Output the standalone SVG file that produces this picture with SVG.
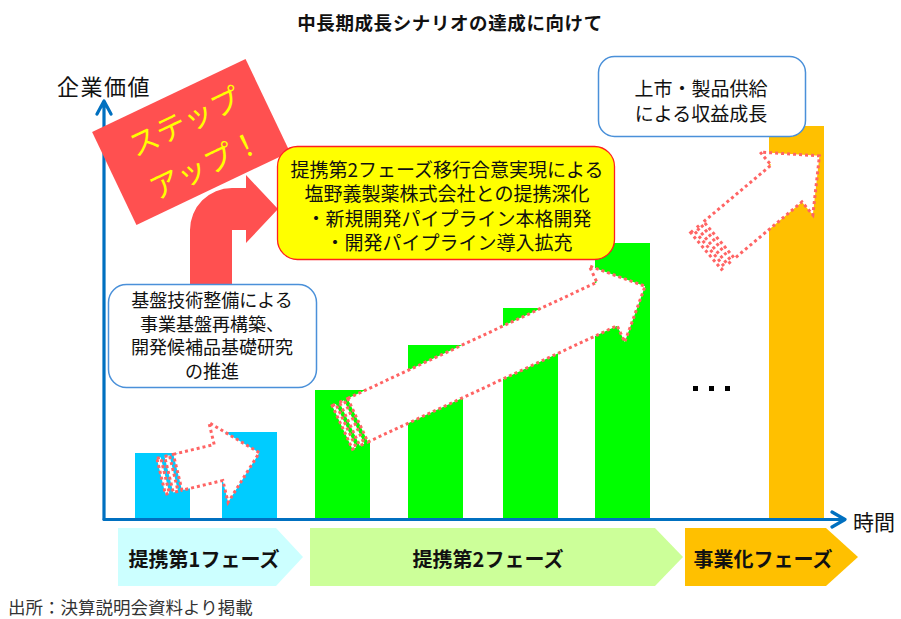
<svg xmlns="http://www.w3.org/2000/svg" width="901" height="619" viewBox="0 0 901 619">
<defs>
<style>
.t{font-family:"Noto Sans CJK JP","Noto Sans",sans-serif;fill:#111;}
.c{text-anchor:middle;dominant-baseline:central;}
.box{font-size:19px;}
.b2{font-size:18px;}
.ph{font-size:20px;font-weight:bold;}
.dot{fill:#fff;stroke:#FF6464;stroke-width:3;stroke-dasharray:3 3;}
.ax{fill:none;stroke:#0070C0;stroke-width:3.2;stroke-linecap:round;stroke-linejoin:round;}
</style>
</defs>
<rect width="901" height="619" fill="#fff"/>
<text class="t c" x="450" y="22" style="font-size:18.5px;font-weight:bold;letter-spacing:0.6px">中長期成長シナリオの達成に向けて</text>

<g id="bars">
<rect x="135" y="453" width="55" height="66" fill="#00CCFF"/>
<rect x="222" y="432" width="55" height="87" fill="#00CCFF"/>
<rect x="315" y="390" width="55" height="129" fill="#00FF00"/>
<rect x="408" y="345" width="55" height="174" fill="#00FF00"/>
<rect x="503" y="308" width="55" height="211" fill="#00FF00"/>
<rect x="595" y="243" width="55" height="276" fill="#00FF00"/>
<rect x="769" y="126" width="55" height="393" fill="#FFC000"/>
</g>

<g id="axes">
<path class="ax" d="M104,519 V102 M97,114 L104,101 L111,114"/>
<path class="ax" d="M104,519.5 H844 M832,512 L845,519.5 L832,527"/>
<text class="t" x="57" y="85" style="font-size:22px;letter-spacing:1.5px" dominant-baseline="central">企業価値</text>
<text class="t" x="853" y="521" style="font-size:21px" dominant-baseline="central">時間</text>
</g>

<g id="stepup" transform="translate(191,142) rotate(-25.5)">
<rect x="-85" y="-51.5" width="170" height="103" fill="#FF5050"/>
<text class="t c" x="3" y="-23" style="font-size:30px;fill:#FFFF00">ステップ</text>
<text class="t c" x="3" y="25" style="font-size:30px;fill:#FFFF00">アップ！</text>
</g>

<g id="connectors">
<path d="M190,284 L190,230 A42,42 0 0 1 232,188 L246,188 L246,175 L278,209 L246,243 L246,230 L232,230 L232,284 Z" fill="#FF5050"/>
</g>

<g id="box-phase2-deal">
<rect x="277.5" y="146.5" width="337" height="113" rx="20" fill="#FFFF00" stroke="#FF2020" stroke-width="1.3"/>
<text class="t c box" x="447" y="168">提携第2フェーズ移行合意実現による</text>
<text class="t c box" x="447" y="192.5">塩野義製薬株式会社との提携深化</text>
<text class="t c box" x="449" y="217">・新規開発パイプライン本格開発</text>
<text class="t c box" x="449" y="241.5">・開発パイプライン導入拡充</text>
</g>

<g id="box-phase1">
<rect x="108.5" y="284.5" width="208" height="103" rx="18" fill="#fff" stroke="#4A90D9" stroke-width="1.5"/>
<text class="t c b2" x="212" y="299">基盤技術整備による</text>
<text class="t c b2" x="212" y="322.5">事業基盤再構築、</text>
<text class="t c b2" x="212" y="346">開発候補品基礎研究</text>
<text class="t c b2" x="212" y="369.5">の推進</text>
</g>

<g id="box-launch">
<rect x="598.5" y="56.5" width="207" height="80" rx="16" fill="#fff" stroke="#4A90D9" stroke-width="1.5"/>
<text class="t c box" x="701" y="87">上市・製品供給</text>
<text class="t c box" x="701" y="112">による収益成長</text>
</g>

<g id="arrow-1" transform="translate(218.5,462.5) rotate(-13.5)">
<rect class="dot" x="-59" y="-18.5" width="4" height="37"/>
<rect class="dot" x="-51" y="-18.5" width="5" height="37"/>
<path class="dot" d="M-42,-18.5 H0 V-41 L42,0 L0,41 V18.5 H-42 Z"/>
</g>
<g id="arrow-2" transform="translate(607,304) rotate(-25)">
<rect class="dot" x="-292" y="-24" width="4" height="48"/>
<rect class="dot" x="-284" y="-24" width="5" height="48"/>
<path class="dot" d="M-275,-24 H0 V-42 L42,0 L0,42 V24 H-275 Z"/>
</g>
<g id="arrow-3" transform="translate(786.5,183.5) rotate(-40)">
<rect class="dot" x="-105" y="-24" width="4" height="48"/>
<rect class="dot" x="-97" y="-24" width="5" height="48"/>
<path class="dot" d="M-88,-24 H0 V-41 L43,0 L0,41 V24 H-88 Z"/>
</g>

<g id="ellipsis" fill="#000">
<rect x="693" y="386" width="5" height="5"/>
<rect x="709" y="386" width="5" height="5"/>
<rect x="725" y="386" width="5" height="5"/>
</g>

<g id="phase-1">
<path d="M118,528 H276 L303,557 L276,586 H118 Z" fill="#CCFFFF"/>
<text class="t c ph" x="204" y="558">提携第1フェーズ</text>
</g>
<g id="phase-2">
<path d="M310,528 H655 L683,557 L655,586 H310 Z" fill="#CCFF99"/>
<text class="t c ph" x="488" y="558">提携第2フェーズ</text>
</g>
<g id="phase-3">
<path d="M685,528 H826 L858,557 L826,586 H685 Z" fill="#FFC000"/>
<text class="t c ph" x="763" y="558">事業化フェーズ</text>
</g>

<text class="t" x="8" y="606" style="font-size:17.5px;fill:#333" dominant-baseline="central">出所：決算説明会資料より掲載</text>
</svg>
